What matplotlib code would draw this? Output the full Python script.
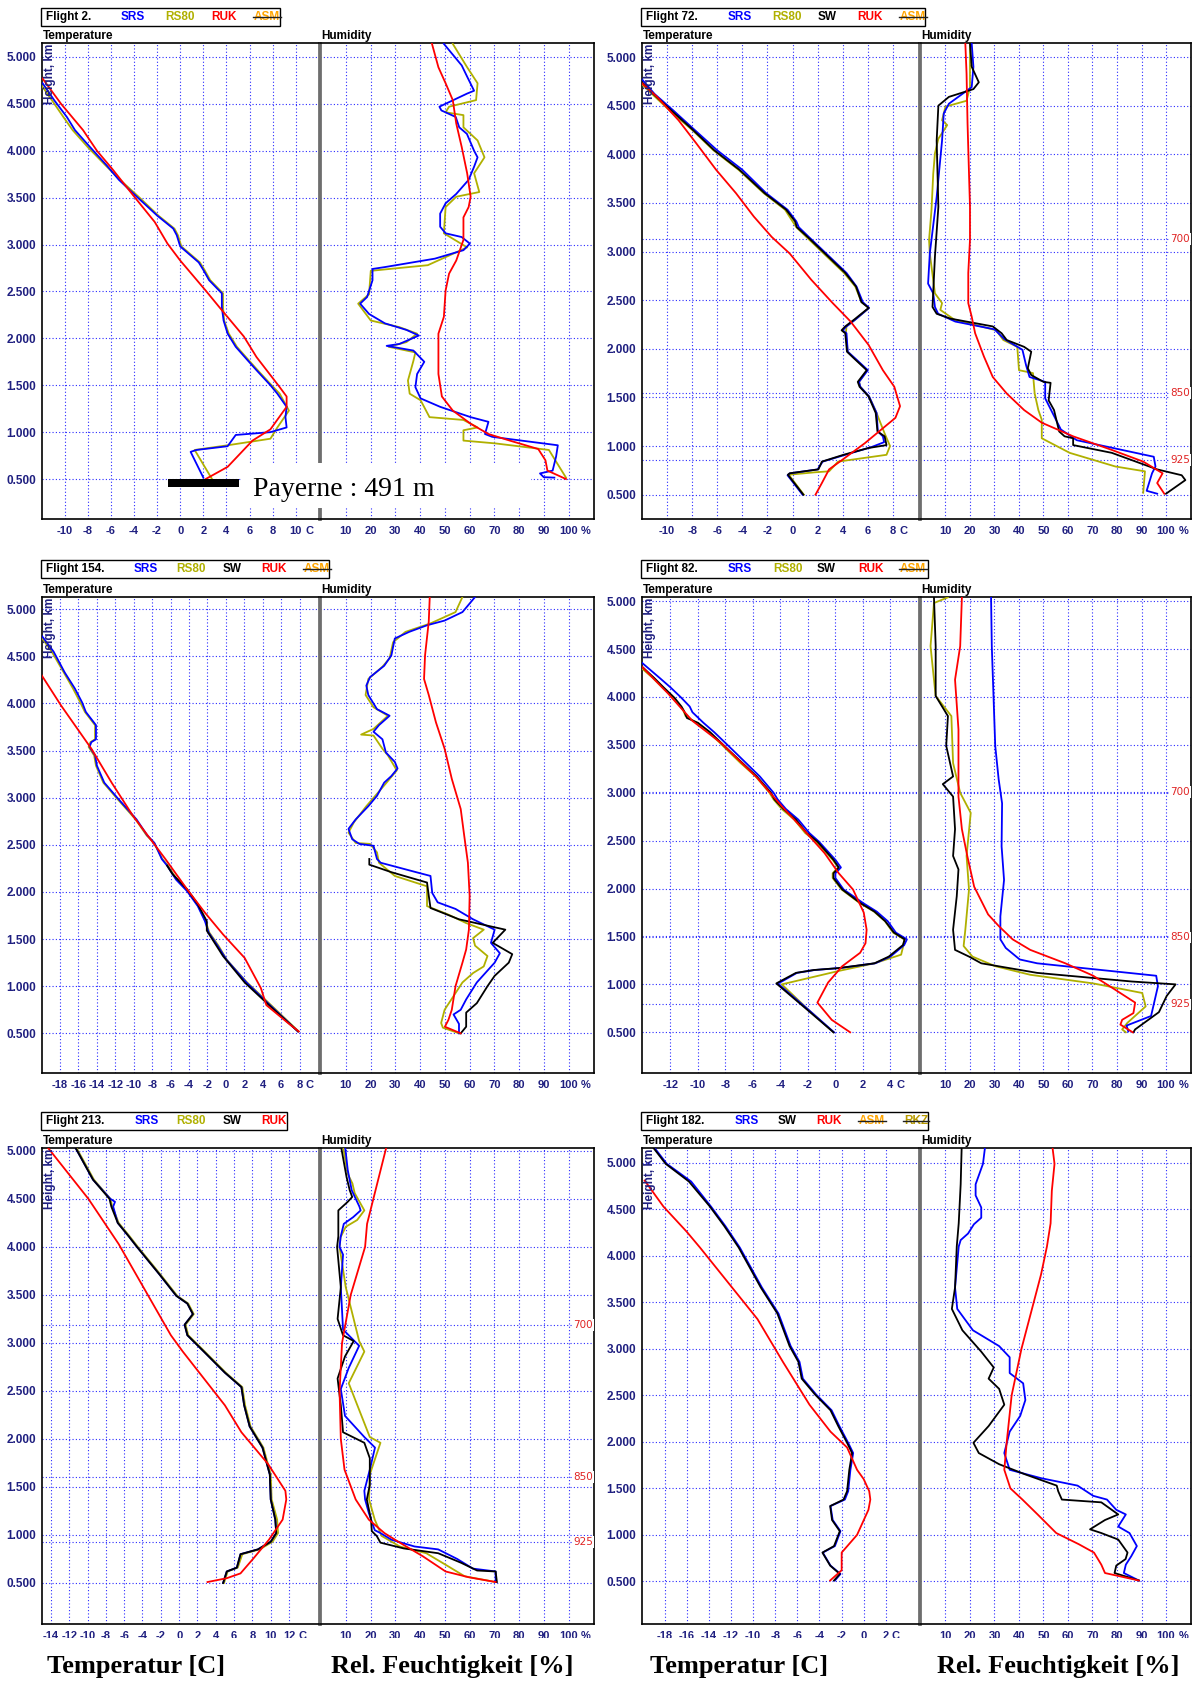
import matplotlib.pyplot as plt
from matplotlib import font_manager
from matplotlib.patches import Rectangle
from matplotlib.lines import Line2D
from matplotlib.transforms import blended_transform_factory

# ---- sounding profiles, (height km, value) ----
# Flight 2
F2_T_RS80 = [(0.50, 2.75), (0.81, 1.25), (0.86, 4.1), (0.93, 7.8), (1.05, 8.4), (1.23, 9.4), (1.41, 8.6),
             (1.50, 7.9), (1.66, 6.7), (1.77, 5.9), (1.91, 4.9), (2.05, 4.2), (2.19, 3.8), (2.33, 3.7),
             (2.48, 3.7), (2.62, 2.6), (2.73, 2.1), (2.81, 1.7), (2.98, 0.1), (3.10, -0.2), (3.17, -0.5),
             (3.31, -1.9), (3.51, -3.6), (3.69, -5.2), (3.85, -6.5), (4.04, -8.0), (4.22, -9.3),
             (4.36, -10.1), (4.54, -11.1), (4.70, -12.0)]
F2_T_SRS = [(0.515, 2.0), (0.79, 0.9), (0.81, 1.4), (0.85, 4.1), (0.97, 4.8), (1.00, 7.8), (1.05, 9.2),
            (1.16, 9.1), (1.27, 9.2), (1.41, 8.4), (1.50, 7.8), (1.66, 6.6), (1.77, 5.8), (1.91, 4.8),
            (2.05, 4.1), (2.19, 3.75), (2.33, 3.6), (2.48, 3.6), (2.62, 2.5), (2.73, 2.0), (2.81, 1.6),
            (2.98, 0.0), (3.10, -0.3), (3.17, -0.6), (3.31, -2.0), (3.51, -3.75), (3.69, -5.3),
            (3.85, -6.4), (4.04, -7.8), (4.22, -9.1), (4.36, -9.8), (4.54, -10.9), (4.72, -11.9)]
F2_T_RUK = [(0.50, 2.2), (0.63, 4.1), (0.91, 6.25), (1.03, 7.8), (1.27, 9.2), (1.38, 9.2), (1.48, 8.6),
            (1.80, 6.6), (2.02, 5.5), (2.33, 3.4), (2.51, 2.2), (2.83, 0.0), (3.01, -1.1), (3.24, -2.2),
            (3.53, -4.1), (3.81, -5.9), (4.00, -7.2), (4.22, -8.4), (4.50, -10.3), (4.77, -11.9)]
F2_H_RS80 = [(0.515, 98.9), (0.81, 92.0), (0.88, 70.4), (0.91, 57.5), (1.02, 57.5), (1.05, 63.2),
             (1.13, 57.5), (1.16, 43.8), (1.34, 40.2), (1.41, 35.8), (1.55, 35.1), (1.76, 37.3),
             (1.85, 38.1), (1.91, 27.3), (1.96, 34.5), (2.05, 38.8), (2.12, 31.6), (2.19, 20.1),
             (2.37, 15.0), (2.47, 19.4), (2.72, 20.1), (2.78, 43.1), (2.97, 59.0), (3.12, 49.6),
             (3.40, 50.3), (3.51, 54.6), (3.56, 63.9), (3.76, 61.8), (3.93, 66.0), (4.11, 63.2),
             (4.25, 57.5), (4.38, 57.5), (4.41, 50.3), (4.47, 51.7), (4.54, 62.6), (4.72, 63.2),
             (4.89, 59.0), (5.14, 53.2)]
F2_H_SRS = [(0.515, 94.2), (0.52, 89.9), (0.56, 88.4), (0.59, 93.5), (0.74, 94.9), (0.86, 95.6),
            (0.95, 69.1), (0.98, 66.2), (1.11, 67.6), (1.16, 60.4), (1.27, 48.1), (1.36, 40.2),
            (1.48, 38.1), (1.62, 38.8), (1.75, 41.7), (1.87, 37.3), (1.92, 26.5), (1.94, 31.6),
            (2.03, 39.5), (2.09, 34.5), (2.16, 25.8), (2.26, 19.4), (2.37, 15.8), (2.44, 18.6),
            (2.62, 20.8), (2.74, 20.8), (2.76, 25.8), (2.85, 46.0), (2.94, 57.5), (3.01, 60.1),
            (3.08, 56.8), (3.12, 50.3), (3.19, 48.1), (3.33, 48.1), (3.44, 50.3), (3.54, 54.6),
            (3.69, 59.6), (3.83, 61.8), (3.93, 63.2), (4.00, 61.8), (4.18, 58.9), (4.25, 55.8),
            (4.36, 54.4), (4.43, 48.6), (4.47, 47.8), (4.61, 59.0), (4.64, 61.8), (4.79, 59.0),
            (4.91, 56.8), (5.14, 49.6)]
F2_H_RUK = [(0.50, 98.9), (0.59, 91.4), (0.70, 90.6), (0.82, 87.7), (0.91, 76.2), (0.98, 67.6),
            (1.09, 60.4), (1.23, 53.2), (1.38, 48.8), (1.62, 47.4), (2.05, 47.4), (2.23, 49.6),
            (2.51, 50.3), (2.69, 51.7), (2.83, 54.6), (3.05, 57.5), (3.29, 57.5), (3.40, 59.6),
            (3.51, 60.4), (3.76, 59.0), (4.04, 56.8), (4.29, 54.6), (4.54, 53.2), (4.72, 50.3),
            (4.89, 47.4), (5.14, 44.8)]

# Flight 72
F72_T_RS80 = [(0.50, 0.9), (0.705, -0.3), (0.73, 1.77), (0.74, 2.91), (0.84, 3.63), (0.91, 7.49),
              (1.00, 7.77), (1.13, 7.34), (1.27, 6.91), (1.34, 6.7), (1.51, 6.1), (1.61, 5.4), (1.66, 5.3),
              (1.78, 5.95), (1.90, 4.95), (1.97, 4.4), (2.16, 4.25), (2.23, 4.3), (2.30, 5.0), (2.42, 6.1),
              (2.48, 5.5), (2.64, 5.0), (2.78, 4.1), (3.15, 1.1), (3.25, 0.3), (3.43, -0.6), (3.60, -2.3),
              (3.84, -4.3), (4.04, -6.3), (4.25, -8.0), (4.45, -9.8), (4.62, -11.2), (4.72, -12.0)]
F72_T_SRS = [(0.50, 0.8), (0.70, -0.4), (0.72, -0.2), (0.76, 2.0), (0.84, 2.4), (0.91, 4.2), (0.99, 6.3),
             (1.04, 7.3), (1.10, 7.2), (1.15, 6.8), (1.34, 6.7), (1.51, 6.1), (1.61, 5.4), (1.66, 5.3),
             (1.78, 6.0), (1.90, 5.0), (1.97, 4.4), (2.16, 4.3), (2.19, 4.0), (2.23, 4.3), (2.30, 5.0),
             (2.42, 6.1), (2.48, 5.6), (2.64, 5.1), (2.78, 4.3), (3.15, 1.3), (3.25, 0.5), (3.31, 0.3),
             (3.43, -0.4), (3.60, -2.1), (3.84, -4.0), (4.04, -6.0), (4.25, -7.8), (4.45, -9.5),
             (4.62, -11.0), (4.77, -12.0)]
F72_T_SW = [(0.50, 0.86), (0.705, -0.37), (0.72, -0.23), (0.76, 2.06), (0.84, 2.34), (0.91, 4.06),
            (0.98, 6.06), (1.01, 7.49), (1.10, 7.34), (1.15, 6.77), (1.34, 6.63), (1.51, 6.06), (1.61, 5.34),
            (1.66, 5.2), (1.78, 5.91), (1.90, 4.91), (1.97, 4.34), (2.16, 4.2), (2.19, 3.91), (2.23, 4.2),
            (2.30, 4.91), (2.42, 6.06), (2.48, 5.49), (2.64, 5.06), (2.78, 4.2), (3.15, 1.2), (3.25, 0.34),
            (3.31, 0.2), (3.43, -0.51), (3.60, -2.23), (3.84, -4.23), (4.04, -6.23), (4.25, -7.94),
            (4.45, -9.66), (4.62, -11.1), (4.74, -12.0)]
F72_T_RUK = [(0.50, 1.83), (0.62, 2.34), (0.76, 2.91), (0.84, 3.77), (1.03, 5.77), (1.29, 8.2), (1.41, 8.57),
             (1.61, 8.11), (1.78, 7.2), (2.04, 6.06), (2.28, 4.63), (2.47, 3.2), (2.71, 1.49), (2.98, -0.23),
             (3.15, -1.66), (3.36, -3.09), (3.60, -4.51), (3.84, -6.09), (4.11, -7.66), (4.35, -9.09),
             (4.59, -10.8), (4.73, -12.0)]
F72_H_RS80 = [(0.52, 90.7), (0.74, 91.4), (0.79, 79.3), (0.93, 60.7), (1.08, 49.3), (1.27, 49.3), (1.37, 47.9),
              (1.54, 46.4), (1.75, 45.7), (1.78, 40.0), (2.02, 39.3), (2.09, 33.6), (2.19, 30.7), (2.30, 13.6),
              (2.40, 7.9), (2.47, 8.6), (2.57, 5.7), (2.98, 3.6), (3.12, 3.3), (3.43, 4.3), (3.80, 5.0),
              (4.01, 5.7), (4.16, 7.1), (4.30, 10.7), (4.35, 8.6), (4.49, 10.0), (4.55, 18.6), (4.69, 20.0),
              (5.14, 20.0)]
F72_H_SRS = [(0.51, 96.4), (0.54, 92.1), (0.72, 94.3), (0.79, 95.7), (0.89, 95.0), (1.06, 63.6), (1.17, 57.1),
             (1.49, 50.7), (1.66, 50.7), (1.71, 44.3), (1.83, 42.9), (1.99, 41.4), (2.10, 34.0), (2.20, 30.0),
             (2.28, 14.0), (2.36, 7.0), (2.43, 5.7), (2.57, 5.0), (2.67, 2.9), (2.98, 3.6), (3.56, 6.4),
             (4.14, 8.6), (4.42, 9.3), (4.52, 11.4), (4.69, 20.7), (4.90, 21.4), (5.14, 20.7)]
F72_H_SW = [(0.51, 100.0), (0.65, 107.9), (0.70, 106.4), (0.76, 96.4), (0.93, 77.9), (1.01, 62.1), (1.08, 62.1),
            (1.10, 58.6), (1.15, 56.4), (1.37, 54.3), (1.47, 52.1), (1.65, 52.9), (1.66, 50.0), (1.73, 45.0),
            (1.80, 43.6), (1.97, 45.0), (2.02, 42.1), (2.09, 35.0), (2.16, 32.9), (2.23, 29.3), (2.31, 12.1),
            (2.36, 6.4), (2.43, 4.7), (2.95, 5.7), (3.46, 7.1), (4.14, 6.4), (4.50, 7.1), (4.59, 11.4),
            (4.67, 21.4), (4.74, 23.6), (4.90, 20.7), (5.14, 20.0)]
F72_H_RUK = [(0.51, 99.3), (0.62, 96.4), (0.72, 98.6), (0.84, 90.7), (0.96, 77.9), (1.10, 62.1), (1.24, 49.3),
             (1.37, 42.1), (1.54, 35.0), (1.71, 29.3), (1.92, 25.7), (2.16, 22.1), (2.33, 20.7), (2.47, 19.3),
             (2.78, 19.3), (3.12, 20.0), (3.46, 20.0), (3.80, 19.6), (4.32, 19.0), (4.83, 18.6), (5.14, 18.1)]

# Flight 154
F154_T_RS80 = [(0.52, 7.9), (0.80, 4.9), (1.04, 2.3), (1.28, 0.1), (1.43, -0.8), (1.57, -1.8), (1.69, -2.2),
               (1.85, -3.0), (2.01, -4.1), (2.13, -5.3), (2.28, -6.3), (2.35, -6.9), (2.52, -7.8), (2.60, -8.6),
               (2.77, -9.8), (2.99, -11.8), (3.16, -13.3), (3.34, -14.1), (3.45, -14.3), (3.54, -14.9),
               (3.59, -14.7), (3.62, -14.2), (3.77, -14.2), (3.91, -15.3), (4.01, -15.8), (4.16, -16.6),
               (4.33, -17.6), (4.55, -18.9), (4.70, -20.0)]
F154_T_SRS = [(0.52, 7.83), (0.80, 4.78), (1.04, 2.23), (1.28, 0.08), (1.43, -0.90), (1.57, -1.87), (1.69, -2.27),
              (1.85, -3.05), (2.01, -4.22), (2.13, -5.4), (2.28, -6.38), (2.35, -6.96), (2.52, -7.75),
              (2.60, -8.53), (2.77, -9.70), (2.99, -11.7), (3.16, -13.2), (3.34, -14.0), (3.45, -14.2),
              (3.54, -14.8), (3.59, -14.6), (3.62, -14.1), (3.77, -14.1), (3.91, -15.2), (4.01, -15.6),
              (4.16, -16.4), (4.33, -17.5), (4.55, -18.7), (4.72, -20.0)]
F154_T_SW = [(0.52, 7.83), (0.79, 4.78), (1.04, 2.04), (1.32, -0.31), (1.44, -1.09), (1.59, -2.07),
             (1.69, -2.07), (1.87, -3.05), (2.03, -4.22), (2.19, -5.79), (2.28, -6.38)]
F154_T_RUK = [(0.52, 7.91), (0.61, 6.74), (0.80, 4.39), (0.98, 3.80), (1.30, 2.04), (1.55, -0.31), (1.78, -2.27),
              (2.03, -4.22), (2.35, -6.57), (2.81, -10.1), (3.16, -12.4), (3.52, -14.6), (3.98, -17.9),
              (4.30, -20.0)]
F154_H_RS80 = [(0.50, 55.7), (0.56, 49.2), (0.61, 48.5), (0.75, 49.9), (1.04, 57.1), (1.14, 61.4), (1.21, 65.7),
               (1.32, 67.2), (1.43, 62.2), (1.51, 61.4), (1.60, 65.7), (1.67, 58.6), (1.76, 51.4), (1.85, 42.8),
               (1.96, 42.8), (2.06, 42.8), (2.17, 29.8), (2.31, 23.4), (2.42, 22.6), (2.51, 19.8), (2.52, 14.0),
               (2.63, 11.1), (2.74, 13.3), (2.91, 18.3), (3.02, 21.9), (3.13, 25.5), (3.29, 30.6), (3.45, 27.0),
               (3.52, 24.8), (3.66, 21.2), (3.67, 16.2), (3.73, 21.2), (3.87, 27.0), (3.96, 21.2), (4.09, 18.0),
               (4.26, 19.1), (4.39, 24.8), (4.48, 27.7), (4.65, 29.1), (4.76, 34.1), (4.85, 44.2), (4.97, 54.3),
               (5.13, 57.1)]
F154_H_SRS = [(0.50, 55.7), (0.60, 55.7), (0.70, 53.5), (0.75, 56.4), (0.86, 58.6), (1.04, 62.9), (1.25, 70.1),
              (1.35, 72.2), (1.46, 68.6), (1.60, 70.1), (1.71, 61.4), (1.82, 54.3), (1.89, 47.1), (1.99, 44.9),
              (2.17, 44.2), (2.21, 38.4), (2.31, 24.1), (2.35, 22.6), (2.49, 21.2), (2.51, 15.5), (2.56, 12.6),
              (2.67, 11.1), (2.77, 14.0), (2.91, 19.1), (3.02, 22.6), (3.16, 25.5), (3.23, 28.4), (3.31, 30.9),
              (3.38, 29.8), (3.48, 26.2), (3.62, 24.8), (3.70, 21.2), (3.77, 23.4), (3.87, 27.7), (3.94, 22.6),
              (4.09, 19.1), (4.19, 18.3), (4.28, 19.8), (4.40, 25.5), (4.51, 28.4), (4.69, 29.8), (4.76, 35.6),
              (4.83, 42.8), (4.88, 49.9), (4.97, 57.1), (5.13, 62.2)]
F154_H_SW = [(0.50, 56.4), (0.57, 58.6), (0.72, 58.6), (0.82, 62.9), (1.00, 67.2), (1.11, 70.1), (1.25, 75.8),
             (1.34, 77.2), (1.46, 69.3), (1.60, 74.4), (1.71, 55.7), (1.83, 44.2), (1.96, 43.5), (2.10, 42.8),
             (2.21, 28.4), (2.29, 19.5), (2.35, 19.5)]
F154_H_RUK = [(0.50, 56.4), (0.57, 50.0), (0.64, 51.4), (0.75, 52.8), (1.00, 54.3), (1.25, 57.1), (1.39, 58.6),
              (1.60, 59.7), (1.96, 60.0), (2.31, 59.3), (2.60, 57.8), (2.88, 56.4), (3.20, 52.8), (3.52, 49.9),
              (3.80, 46.4), (4.09, 43.5), (4.26, 41.6), (4.51, 42.0), (4.87, 43.5), (5.13, 43.9)]

# Flight 82
F82_T_RS80 = [(0.50, -0.14), (0.74, -2.0), (1.00, -3.9), (1.07, -1.83), (1.14, 0.24), (1.22, 2.84), (1.31, 4.78),
              (1.41, 4.95), (1.47, 5.0), (1.54, 4.2), (1.66, 3.6), (1.76, 2.8), (1.85, 1.75), (1.99, 0.45),
              (2.11, -0.2), (2.16, -0.2), (2.22, 0.2), (2.30, -0.2), (2.49, -1.4), (2.58, -2.2), (2.72, -3.0),
              (2.83, -3.9), (2.93, -4.5), (3.00, -4.8), (3.17, -5.8), (3.31, -6.9), (3.45, -7.9), (3.63, -9.2),
              (3.73, -10.1), (3.80, -10.9), (3.87, -11.1), (3.99, -11.8), (4.10, -12.6), (4.20, -13.3),
              (4.30, -14.1)]
F82_T_SRS = [(0.50, -0.1), (0.74, -2.0), (1.01, -4.2), (1.03, -3.9), (1.12, -2.8), (1.15, -1.5), (1.17, 0.3),
             (1.22, 2.9), (1.29, 4.0), (1.41, 5.0), (1.47, 5.2), (1.54, 4.4), (1.66, 3.8), (1.76, 3.0),
             (1.85, 2.0), (1.99, 0.6), (2.11, 0.0), (2.16, 0.0), (2.22, 0.4), (2.30, 0.0), (2.49, -1.2),
             (2.58, -1.9), (2.72, -2.7), (2.83, -3.6), (2.93, -4.2), (3.00, -4.5), (3.17, -5.5), (3.31, -6.5),
             (3.45, -7.5), (3.63, -8.8), (3.73, -9.6), (3.84, -10.4), (3.90, -10.6), (3.99, -11.2),
             (4.10, -12.0), (4.20, -12.8), (4.36, -14.1)]
F82_T_SW = [(0.50, -0.14), (0.74, -2.09), (1.01, -4.30), (1.03, -4.04), (1.12, -2.87), (1.15, -1.57),
            (1.17, 0.24), (1.22, 2.84), (1.29, 3.88), (1.41, 4.91), (1.47, 5.04), (1.54, 4.26), (1.66, 3.62),
            (1.76, 2.84), (1.85, 1.80), (1.99, 0.50), (2.11, -0.14), (2.16, -0.14), (2.22, 0.24), (2.30, -0.14),
            (2.49, -1.31), (2.58, -2.09), (2.72, -2.87), (2.83, -3.78), (2.93, -4.43), (3.00, -4.69),
            (3.17, -5.72), (3.31, -6.76), (3.45, -7.80), (3.63, -9.10), (3.73, -10.0), (3.78, -10.8),
            (3.85, -11.0), (3.90, -11.2), (3.99, -11.7), (4.10, -12.5), (4.20, -13.2), (4.32, -14.1)]
F82_T_RUK = [(0.50, 1.07), (0.63, -0.27), (0.81, -1.31), (1.02, -0.53), (1.19, 0.50), (1.33, 1.80), (1.43, 2.19),
             (1.57, 2.27), (1.75, 2.06), (1.99, 1.28), (2.16, 0.24), (2.37, -0.79), (2.62, -2.35), (2.86, -3.91),
             (3.16, -5.72), (3.52, -8.32), (3.75, -10.4), (4.04, -12.2), (4.32, -14.1)]
F82_H_RS80 = [(0.50, 83.6), (0.53, 82.1), (0.60, 84.3), (0.77, 91.7), (0.91, 90.3), (1.01, 70.3), (1.10, 44.6),
              (1.19, 30.3), (1.29, 21.0), (1.40, 17.4), (1.57, 18.1), (1.99, 19.6), (2.34, 18.6), (2.79, 20.3),
              (3.00, 16.0), (3.31, 13.1), (3.80, 12.4), (4.01, 6.0), (4.18, 5.3), (4.53, 3.9), (4.98, 5.3),
              (5.04, 11.0)]
F82_H_SRS = [(0.51, 84.6), (0.57, 83.9), (0.67, 93.9), (0.98, 96.7), (1.09, 96.0), (1.22, 47.4), (1.26, 40.3),
             (1.38, 34.6), (1.47, 32.4), (1.71, 32.4), (2.09, 33.9), (2.44, 32.9), (2.89, 33.1), (3.14, 31.7),
             (3.49, 30.3), (4.01, 29.6), (4.53, 28.9), (5.04, 28.6)]
F82_H_SW = [(0.50, 86.7), (0.53, 87.4), (0.71, 97.1), (0.88, 100.3), (1.00, 103.9), (1.03, 86.0), (1.12, 47.4),
            (1.22, 24.6), (1.29, 19.6), (1.36, 13.9), (1.57, 13.1), (1.92, 14.6), (2.20, 15.3), (2.34, 13.1),
            (2.62, 13.9), (2.96, 13.1), (3.09, 8.9), (3.17, 13.1), (3.49, 10.3), (3.80, 11.0), (4.01, 6.0),
            (4.53, 6.0), (5.04, 5.3)]
F82_H_RUK = [(0.50, 86.4), (0.58, 81.4), (0.63, 82.1), (0.70, 86.7), (0.81, 87.4), (0.95, 78.9), (1.09, 70.3),
             (1.22, 58.9), (1.36, 44.6), (1.47, 37.4), (1.61, 31.7), (1.73, 27.4), (2.02, 21.7), (2.34, 18.9),
             (2.62, 16.7), (2.96, 15.3), (3.66, 15.3), (4.18, 13.9), (4.53, 16.0), (5.04, 16.7)]

# Flight 213
F213_T_RS80 = [(0.50, 4.9), (0.62, 5.3), (0.66, 6.4), (0.80, 6.9), (0.85, 8.8), (0.93, 10.2), (1.02, 10.8),
               (1.16, 10.7), (1.37, 10.1), (1.63, 10.0), (1.91, 9.2), (2.13, 7.8), (2.35, 7.2), (2.54, 6.9),
               (2.69, 5.1), (2.91, 2.8), (3.08, 1.0), (3.19, 0.7), (3.30, 1.6), (3.41, 1.0), (3.49, -0.2),
               (3.72, -2.1), (4.00, -4.5), (4.11, -5.4), (4.25, -6.6), (4.42, -7.3), (4.50, -7.5), (4.70, -9.3),
               (5.03, -11.2)]
F213_T_SRS = [(0.50, 4.8), (0.62, 5.2), (0.66, 6.3), (0.80, 6.7), (0.85, 8.6), (0.93, 10.0), (1.02, 10.6),
              (1.16, 10.5), (1.37, 10.0), (1.63, 9.9), (1.91, 9.1), (2.13, 7.7), (2.35, 7.1), (2.54, 6.8),
              (2.69, 5.0), (2.91, 2.7), (3.08, 0.9), (3.19, 0.6), (3.30, 1.5), (3.41, 0.9), (3.49, -0.3),
              (3.72, -2.2), (4.00, -4.6), (4.11, -5.5), (4.25, -6.7), (4.42, -7.2), (4.47, -7.0), (4.50, -7.5),
              (4.70, -9.4), (5.03, -11.3)]
F213_T_SW = [(0.50, 4.8), (0.62, 5.2), (0.66, 6.3), (0.80, 6.7), (0.85, 8.6), (0.93, 10.0), (1.02, 10.6),
             (1.16, 10.5), (1.37, 10.0), (1.63, 9.9), (1.91, 9.1), (2.13, 7.7), (2.35, 7.1), (2.54, 6.8),
             (2.69, 5.0), (2.91, 2.7), (3.08, 0.9), (3.19, 0.6), (3.30, 1.5), (3.41, 0.9), (3.49, -0.3),
             (3.72, -2.2), (4.00, -4.6), (4.11, -5.5), (4.25, -6.7), (4.42, -7.4), (4.50, -7.6), (4.70, -9.4),
             (5.03, -11.3)]
F213_T_RUK = [(0.51, 3.1), (0.55, 5.2), (0.60, 6.7), (0.76, 8.15), (0.95, 9.8), (1.16, 11.3), (1.37, 11.7),
              (1.46, 11.6), (1.74, 9.7), (2.07, 6.8), (2.35, 5.0), (2.63, 2.7), (2.91, 0.4), (3.08, -0.9),
              (3.58, -3.9), (4.03, -6.6), (4.50, -9.9), (5.03, -14.3)]
F213_H_RS80 = [(0.51, 70.5), (0.57, 58.0), (0.69, 50.3), (0.81, 42.5), (0.88, 31.8), (0.99, 24.5), (1.16, 21.7),
               (1.37, 19.4), (1.63, 19.7), (1.96, 24.0), (2.02, 19.7), (2.58, 11.2), (2.91, 17.5), (3.02, 15.4),
               (3.58, 10.0), (4.00, 7.5), (4.10, 7.9), (4.21, 10.0), (4.28, 14.6), (4.38, 17.5), (4.56, 13.6),
               (4.66, 12.7), (4.76, 10.8), (5.03, 9.0)]
F213_H_SRS = [(0.51, 70.5), (0.62, 70.5), (0.65, 61.3), (0.75, 55.0), (0.85, 47.3), (0.88, 37.8), (0.95, 28.5),
              (1.02, 24.0), (1.05, 21.7), (1.23, 19.3), (1.37, 17.8), (1.46, 17.5), (1.68, 19.7), (1.91, 21.8),
              (2.02, 17.5), (2.24, 9.7), (2.52, 8.0), (2.74, 11.2), (2.97, 15.4), (3.14, 8.9), (3.58, 8.0),
              (3.92, 8.9), (4.00, 7.5), (4.10, 7.9), (4.24, 9.2), (4.31, 13.0), (4.38, 16.0), (4.42, 15.5),
              (4.59, 12.4), (4.80, 10.8), (5.03, 9.8)]
F213_H_SW = [(0.51, 71.0), (0.62, 70.5), (0.63, 63.0), (0.71, 56.6), (0.81, 47.3), (0.86, 33.4), (0.92, 24.0),
             (0.99, 22.5), (1.04, 20.5), (1.16, 20.2), (1.37, 18.5), (1.52, 19.7), (1.80, 19.7), (1.96, 17.5),
             (2.07, 8.9), (2.35, 8.0), (2.63, 6.7), (2.86, 9.7), (3.02, 13.2), (3.08, 8.9), (3.25, 6.7),
             (3.58, 8.0), (4.00, 6.5), (4.11, 7.0), (4.38, 7.0), (4.47, 10.8), (4.52, 12.6), (4.59, 11.6),
             (4.73, 10.3), (5.03, 8.2)]
F213_H_RUK = [(0.51, 70.5), (0.56, 59.6), (0.62, 50.3), (0.78, 41.0), (0.92, 31.8), (1.02, 25.6), (1.16, 19.3),
              (1.37, 14.0), (1.68, 9.5), (2.00, 8.0), (2.50, 7.5), (3.00, 8.5), (3.50, 12.0), (4.00, 17.8),
              (4.24, 18.6), (5.03, 26.3)]

# Flight 182
F182_T_SRS = [(0.51, -2.6), (0.58, -2.1), (0.67, -3.0), (0.81, -3.7), (0.88, -2.6), (1.04, -2.1), (1.16, -2.8),
              (1.31, -3.0), (1.38, -1.7), (1.47, -1.4), (1.70, -1.2), (1.88, -0.95), (1.99, -1.4), (2.17, -2.2),
              (2.34, -2.9), (2.51, -4.3), (2.68, -5.5), (2.86, -5.8), (3.03, -6.6), (3.38, -7.7), (3.66, -9.2),
              (4.09, -11.2), (4.32, -12.5), (4.53, -13.8), (4.80, -15.6), (4.99, -17.8), (5.16, -18.9)]
F182_T_SW = [(0.51, -2.68), (0.58, -2.16), (0.67, -3.03), (0.81, -3.73), (0.88, -2.68), (1.04, -2.16),
             (1.16, -2.86), (1.31, -3.03), (1.38, -1.82), (1.47, -1.5), (1.70, -1.3), (1.88, -1.05),
             (1.99, -1.5), (2.17, -2.3), (2.34, -3.0), (2.51, -4.4), (2.68, -5.6), (2.86, -5.9), (3.03, -6.7),
             (3.38, -7.8), (3.66, -9.3), (4.09, -11.3), (4.32, -12.6), (4.53, -13.9), (4.80, -15.8),
             (4.99, -17.9), (5.16, -19.0)]
F182_T_RUK = [(0.51, -3.03), (0.62, -1.99), (0.81, -1.99), (1.00, -0.6), (1.27, 0.43), (1.38, 0.6), (1.47, 0.5),
              (1.60, 0.0), (1.70, -0.6), (1.94, -1.5), (2.11, -3.0), (2.40, -4.9), (2.86, -7.3), (3.32, -9.6),
              (4.09, -14.8), (4.26, -16.0), (4.53, -18.1), (4.81, -19.8)]
F182_H_SRS = [(0.51, 88.9), (0.59, 82.8), (0.68, 83.6), (0.77, 85.8), (0.88, 88.1), (1.02, 85.1), (1.09, 80.5),
              (1.22, 83.6), (1.27, 79.7), (1.38, 75.9), (1.42, 70.3), (1.53, 63.9), (1.61, 49.0), (1.70, 36.2),
              (1.88, 34.0), (2.11, 36.2), (2.28, 40.5), (2.45, 42.6), (2.63, 41.7), (2.74, 36.2), (2.91, 36.2),
              (3.03, 31.9), (3.20, 21.2), (3.43, 14.8), (3.66, 13.9), (4.10, 15.4), (4.17, 16.2), (4.24, 19.2),
              (4.34, 21.6), (4.41, 24.6), (4.52, 24.6), (4.65, 22.3), (4.77, 22.3), (4.99, 25.3), (5.16, 26.1)]
F182_H_SW = [(0.51, 88.9), (0.59, 79.0), (0.67, 79.7), (0.74, 83.5), (0.81, 84.3), (0.95, 80.5), (1.02, 73.6),
             (1.06, 69.0), (1.16, 75.1), (1.22, 80.5), (1.35, 73.6), (1.38, 57.5), (1.47, 56.0), (1.53, 55.4),
             (1.65, 42.6), (1.76, 31.9), (1.88, 23.6), (1.99, 21.4), (2.17, 27.6), (2.40, 34.0), (2.57, 31.9),
             (2.68, 27.6), (2.80, 29.7), (2.97, 24.6), (3.20, 16.9), (3.43, 12.6), (3.66, 13.9), (4.10, 14.6),
             (4.35, 15.4), (4.77, 16.2), (5.16, 16.6)]
F182_H_RUK = [(0.51, 88.9), (0.59, 75.1), (0.68, 73.6), (0.81, 70.6), (0.90, 64.4), (1.02, 55.2), (1.22, 47.6),
              (1.38, 41.4), (1.50, 36.5), (1.70, 34.0), (2.00, 35.0), (2.50, 37.0), (3.00, 41.0), (3.50, 46.0),
              (3.80, 49.0), (4.10, 51.4), (4.35, 52.9), (4.70, 53.4), (4.99, 54.5), (5.16, 53.7)]

HEIGHT_TICKS = [0.5, 1.0, 1.5, 2.0, 2.5, 3.0, 3.5, 4.0, 4.5, 5.0]
HUM_TICKS = [10, 20, 30, 40, 50, 60, 70, 80, 90, 100]

# ---- look ----
W, H = 1195, 1682
NAVY = "#1f1f80"
GRID = "#2a2aff"
COLORS = {"SRS": "#0000ff", "RS80": "#b0b000", "SW": "#000000", "RUK": "#ff0000",
          "ASM": "#ffa500", "RKZ": "#b89a00"}

installed = {f.name for f in font_manager.fontManager.ttflist}
SANS = "Liberation Sans" if "Liberation Sans" in installed else "DejaVu Sans"
SERIF = "Liberation Serif" if "Liberation Serif" in installed else "DejaVu Serif"
plt.rcParams["font.family"] = SANS

fig = plt.figure(figsize=(W / 100, H / 100), dpi=100)


def fpos(x, y):
    return x / W, 1 - y / H


def add_ax(x0, x1, y0, y1):
    return fig.add_axes([x0 / W, 1 - y1 / H, (x1 - x0) / W, (y1 - y0) / H])


COLS = [(42, 319, 320, 594), (642, 919, 920, 1191)]
ROWS = [(43, 519), (597, 1073), (1148, 1624)]

panels = [
    dict(row=0, col=0, name="Flight 2.", box=(41, 280), keys=[("SRS", 121), ("RS80", 165), ("RUK", 211), ("ASM", 254)],
         tlim=(-11.95, 12.0), tticks=list(range(-10, 11, 2)), ylim=(0.074, 5.149),
         temp=[("RS80", F2_T_RS80), ("SRS", F2_T_SRS), ("RUK", F2_T_RUK)],
         hum=[("RS80", F2_H_RS80), ("SRS", F2_H_SRS), ("RUK", F2_H_RUK)], levels=[]),
    dict(row=0, col=1, name="Flight 72.", box=(641, 925),
         keys=[("SRS", 728), ("RS80", 772), ("SW", 818), ("RUK", 857), ("ASM", 900)],
         tlim=(-12.0, 10.08), tticks=list(range(-10, 9, 2)), ylim=(0.25, 5.144),
         temp=[("RS80", F72_T_RS80), ("SRS", F72_T_SRS), ("SW", F72_T_SW), ("RUK", F72_T_RUK)],
         hum=[("RS80", F72_H_RS80), ("SRS", F72_H_SRS), ("SW", F72_H_SW), ("RUK", F72_H_RUK)],
         levels=[(3.128, "700"), (1.547, "850"), (0.855, "925")]),
    dict(row=1, col=0, name="Flight 154.", box=(41, 329),
         keys=[("SRS", 134), ("RS80", 176), ("SW", 223), ("RUK", 261), ("ASM", 304)],
         tlim=(-19.96, 10.11), tticks=list(range(-18, 9, 2)), ylim=(0.079, 5.13),
         temp=[("RS80", F154_T_RS80), ("SRS", F154_T_SRS), ("SW", F154_T_SW), ("RUK", F154_T_RUK)],
         hum=[("RS80", F154_H_RS80), ("SRS", F154_H_SRS), ("SW", F154_H_SW), ("RUK", F154_H_RUK)], levels=[]),
    dict(row=1, col=1, name="Flight 82.", box=(641, 928),
         keys=[("SRS", 728), ("RS80", 773), ("SW", 817), ("RUK", 858), ("ASM", 900)],
         tlim=(-14.07, 6.08), tticks=list(range(-12, 5, 2)), ylim=(0.075, 5.043),
         temp=[("RS80", F82_T_RS80), ("SRS", F82_T_SRS), ("SW", F82_T_SW), ("RUK", F82_T_RUK)],
         hum=[("RS80", F82_H_RS80), ("SRS", F82_H_SRS), ("SW", F82_H_SW), ("RUK", F82_H_RUK)],
         levels=[(3.01, "700"), (1.49, "850"), (0.79, "925")]),
    dict(row=2, col=0, name="Flight 213.", box=(41, 287),
         keys=[("SRS", 135), ("RS80", 176), ("SW", 223), ("RUK", 261)],
         tlim=(-14.97, 15.27), tticks=list(range(-14, 13, 2)), ylim=(0.073, 5.03),
         temp=[("RS80", F213_T_RS80), ("SRS", F213_T_SRS), ("SW", F213_T_SW), ("RUK", F213_T_RUK)],
         hum=[("RS80", F213_H_RS80), ("SRS", F213_H_SRS), ("SW", F213_H_SW), ("RUK", F213_H_RUK)],
         levels=[(3.188, "700"), (1.604, "850"), (0.927, "925")]),
    dict(row=2, col=1, name="Flight 182.", box=(641, 928),
         keys=[("SRS", 735), ("SW", 778), ("RUK", 816), ("ASM", 859), ("RKZ", 904)],
         tlim=(-20.04, 5.0), tticks=list(range(-18, 3, 2)), ylim=(0.042, 5.16),
         temp=[("SRS", F182_T_SRS), ("SW", F182_T_SW), ("RUK", F182_T_RUK)],
         hum=[("SRS", F182_H_SRS), ("SW", F182_H_SW), ("RUK", F182_H_RUK)], levels=[]),
]

LEG_Y = [(8, 26), (560, 578), (1112, 1130)]


def style(ax, xlim, xticks, ylim, left):
    ax.set_xlim(*xlim)
    ax.set_ylim(*ylim)
    ax.set_xticks(xticks)
    ax.set_xticklabels([str(t) for t in xticks], fontsize=8, fontweight="bold", color=NAVY)
    ax.set_yticks(HEIGHT_TICKS)
    if left:
        ax.set_yticklabels([f"{v:.3f}" for v in HEIGHT_TICKS], fontsize=8.5, fontweight="bold", color=NAVY)
    else:
        ax.set_yticklabels([])
    ax.tick_params(length=0, pad=4)
    ax.tick_params(axis="x", pad=5)
    ax.grid(True, color=GRID, ls=(0, (1, 2)), lw=0.8)
    ax.set_axisbelow(True)
    for s in ax.spines.values():
        s.set_linewidth(1.2)
        s.set_color("black")


unit_axes = []
strikes = []
for p in panels:
    tx0, tx1, hx0, hx1 = COLS[p["col"]]
    y0, y1 = ROWS[p["row"]]
    axT = add_ax(tx0, tx1, y0, y1)
    axH = add_ax(hx0, hx1, y0, y1)
    style(axT, p["tlim"], p["tticks"], p["ylim"], True)
    style(axH, (-0.4, 110.2), HUM_TICKS, p["ylim"], False)
    axT.spines["right"].set_color("#6e6e6e")
    axT.spines["right"].set_linewidth(2)
    axH.spines["left"].set_color("#6e6e6e")
    axH.spines["left"].set_linewidth(2)

    for key, prof in p["temp"]:
        hh, vv = zip(*prof)
        axT.plot(vv, hh, color=COLORS[key], lw=1.3, zorder=3)
    for key, prof in p["hum"]:
        hh, vv = zip(*prof)
        axH.plot(vv, hh, color=COLORS[key], lw=1.3, zorder=3)

    for lev, lab in p["levels"]:
        for ax in (axT, axH):
            ax.axhline(lev, color=GRID, ls=(0, (1, 2)), lw=0.8, zorder=1)
        tr = blended_transform_factory(axH.transAxes, axH.transData)
        axH.text(0.997, lev, lab, transform=tr, ha="right", va="center", fontsize=7.5,
                 color="#e02424", family="DejaVu Sans", zorder=4,
                 bbox=dict(facecolor="white", edgecolor="none", pad=0.6))

    axT.text(0.006, 0.999, "Height, km", transform=axT.transAxes, rotation=90, ha="left", va="top",
             fontsize=8.5, fontweight="bold", color=NAVY, clip_on=True, zorder=4)
    unit_axes.append((axT, "C"))
    unit_axes.append((axH, "%"))

    # headings
    fig.text(*fpos(tx0 + 1, y0 - 1), "Temperature", fontsize=8.5, fontweight="bold", va="bottom", ha="left")
    fig.text(*fpos(hx0 + 1, y0 - 1), "Humidity", fontsize=8.5, fontweight="bold", va="bottom", ha="left")

    # legend box
    ly0, ly1 = LEG_Y[p["row"]]
    bx0, bx1 = p["box"]
    fig.patches.append(Rectangle(fpos(bx0, ly1), (bx1 - bx0) / W, (ly1 - ly0) / H, transform=fig.transFigure,
                                 facecolor="white", edgecolor="black", lw=1.0, zorder=5))
    ym = (ly0 + ly1) / 2
    fig.text(*fpos(bx0 + 5, ym), p["name"], fontsize=8.5, fontweight="bold", va="center", ha="left", zorder=6)
    for key, x in p["keys"]:
        t = fig.text(*fpos(x, ym), key, fontsize=8.5, fontweight="bold", va="center", ha="left",
                     color=COLORS[key], zorder=6)
        if key in ("ASM", "RKZ"):
            strikes.append(t)

    if p["row"] == 0 and p["col"] == 0:
        axT.add_patch(Rectangle((-1.07, 0.418), 6.13, 0.082, facecolor="black", edgecolor="none",
                                zorder=6, clip_on=False))
        fig.patches.append(Rectangle(fpos(242, 508), 289 / W, 45 / H, transform=fig.transFigure,
                                     facecolor="white", edgecolor="none", zorder=10))
        fig.text(*fpos(344, 489), "Payerne : 491 m", family=SERIF, fontsize=20, ha="center", va="center",
                 zorder=11)

# white strip that cuts the bottom tick labels, and the captions
fig.patches.append(Rectangle((0, 0), 1, (H - 1638) / H, transform=fig.transFigure,
                             facecolor="white", edgecolor="none", zorder=20))
for cx, txt in [(136, "Temperatur [C]"), (452, "Rel. Feuchtigkeit [%]"),
                (739, "Temperatur [C]"), (1058, "Rel. Feuchtigkeit [%]")]:
    fig.text(*fpos(cx, 1667), txt, family=SERIF, fontweight="bold", fontsize=19, ha="center", va="center",
             zorder=21)

# units after the last tick label, strike-through on disabled sensors
fig.canvas.draw()
renderer = fig.canvas.get_renderer()
inv = fig.transFigure.inverted()
for ax, unit in unit_axes:
    lbl = ax.get_xticklabels()[-1]
    bb = lbl.get_window_extent(renderer)
    fx, fy = inv.transform((bb.x1 + 3, (bb.y0 + bb.y1) / 2))
    fig.text(fx, fy, unit, fontsize=8, fontweight="bold", color=NAVY, ha="left", va="center", zorder=6)
for t in strikes:
    bb = t.get_window_extent(renderer)
    (ax0, ay), (ax1, _) = inv.transform([(bb.x0 - 1, (bb.y0 + bb.y1) / 2), (bb.x1 + 1, 0)])
    fig.lines.append(Line2D([ax0, ax1], [ay, ay], transform=fig.transFigure, color="#202020", lw=1.0, zorder=7))

fig.savefig("out.png", dpi=100)
